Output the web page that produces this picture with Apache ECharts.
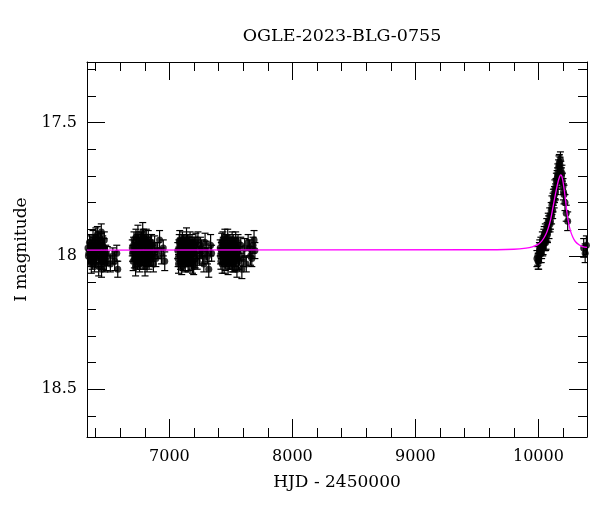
<!DOCTYPE html>
<html>
<head>
<meta charset="utf-8">
<script src="https://cdn.jsdelivr.net/npm/echarts@6/dist/echarts.min.js"></script>
<style>html,body{margin:0;padding:0;background:#fff}#c{width:600px;height:512px}</style>
</head>
<body>
<div id="c"></div>
<script>
// Observations: [HJD-2450000, I mag, error]
const season1 = [
[6338,17.97,0.03],[6345,17.99,0.035],[6350,17.95,0.03],[6356,18.01,0.03],[6362,17.96,0.035],[6368,17.98,0.03],
[6373,18.02,0.03],[6379,17.94,0.035],[6385,17.99,0.03],[6391,18.03,0.03],[6396,17.97,0.03],[6402,17.93,0.035],
[6408,18.00,0.03],[6414,17.92,0.03],[6419,17.98,0.03],[6425,18.04,0.035],[6431,17.96,0.03],[6437,18.01,0.03],
[6442,17.95,0.035],[6448,18.05,0.03],[6455,17.99,0.03],[6461,18.02,0.03],[6468,17.97,0.035],[6475,18.03,0.03],
[6482,17.99,0.03],[6495,18.00,0.035],[6520,18.03,0.03],[6555,18.02,0.035],[6572,17.99,0.03],[6580,18.05,0.03],
[6341,18.00,0.03],[6353,17.98,0.03],[6365,18.03,0.035],[6376,17.96,0.03],[6388,17.95,0.03],[6399,18.01,0.035],
[6411,17.97,0.03],[6422,17.94,0.03],[6434,17.99,0.035],[6446,17.91,0.03],[6452,18.02,0.03],[6458,17.96,0.035],
[6465,18.00,0.03],[6471,17.94,0.03],[6488,18.02,0.035],[6540,18.00,0.03]
];
const season2 = [
[6698,17.97,0.03],[6705,18.02,0.035],[6712,17.94,0.03],[6718,17.99,0.03],[6725,18.04,0.035],[6731,17.96,0.03],
[6738,18.01,0.03],[6744,17.92,0.035],[6750,17.98,0.03],[6757,18.03,0.03],[6763,17.95,0.03],[6770,18.00,0.035],
[6776,17.97,0.03],[6783,17.91,0.035],[6789,17.93,0.03],[6796,17.99,0.03],[6802,18.04,0.035],[6809,17.96,0.03],
[6815,18.01,0.03],[6822,17.98,0.03],[6828,17.94,0.035],[6835,18.02,0.03],[6841,17.97,0.03],[6848,18.00,0.035],
[6855,17.95,0.03],[6862,17.99,0.03],[6870,18.03,0.03],[6880,17.96,0.035],[6890,18.01,0.03],[6905,17.98,0.03],
[6920,17.94,0.035],[6935,18.00,0.03],[6950,17.97,0.03],[6962,18.02,0.035],
[6701,17.99,0.03],[6709,17.96,0.03],[6715,18.01,0.035],[6722,17.98,0.03],[6728,17.93,0.03],[6735,17.99,0.035],
[6741,18.02,0.03],[6747,17.95,0.03],[6754,18.00,0.03],[6760,17.97,0.035],[6767,18.02,0.03],[6773,17.94,0.03],
[6780,18.00,0.035],[6786,17.96,0.03],[6793,18.02,0.03],[6799,17.95,0.03],[6806,17.99,0.035],[6812,17.93,0.03],
[6818,18.03,0.03],[6825,17.96,0.03],[6832,18.00,0.035],[6845,17.95,0.03],[6858,18.01,0.03],[6875,17.98,0.03]
];
const season3 = [
[7068,17.98,0.03],[7074,18.03,0.035],[7080,17.95,0.03],[7087,18.00,0.03],[7093,17.97,0.035],[7100,18.04,0.03],
[7106,17.94,0.03],[7113,17.99,0.03],[7119,18.02,0.035],[7126,17.96,0.03],[7132,18.01,0.03],[7139,17.93,0.035],
[7145,17.98,0.03],[7152,18.03,0.03],[7158,17.96,0.03],[7165,18.00,0.035],[7171,17.97,0.03],[7178,18.02,0.03],
[7184,17.95,0.03],[7191,17.99,0.035],[7197,18.04,0.03],[7204,17.96,0.03],[7210,18.01,0.035],[7220,17.98,0.03],
[7232,17.94,0.03],[7245,18.00,0.035],[7260,17.97,0.03],[7280,18.03,0.03],[7300,17.98,0.035],[7320,18.05,0.03],
[7335,17.96,0.04],[7343,17.99,0.03],
[7071,18.01,0.03],[7077,17.97,0.03],[7084,17.94,0.035],[7090,18.02,0.03],[7096,17.95,0.03],[7103,17.99,0.03],
[7109,18.02,0.035],[7116,17.95,0.03],[7122,17.98,0.03],[7129,18.03,0.03],[7135,17.97,0.035],[7142,18.00,0.03],
[7148,17.95,0.03],[7155,17.99,0.03],[7161,18.02,0.035],[7168,17.94,0.03],[7174,18.00,0.03],[7181,17.97,0.03],
[7188,18.03,0.035],[7194,17.96,0.03],[7200,17.99,0.03],[7215,17.95,0.035],[7226,18.02,0.03],[7252,17.96,0.03],
[7270,18.00,0.03],[7290,17.95,0.035],[7310,18.00,0.03]
];
const season4 = [
[7413,17.97,0.03],[7419,18.02,0.03],[7425,17.95,0.035],[7432,18.00,0.03],[7438,17.96,0.03],[7445,18.03,0.035],
[7451,17.93,0.03],[7458,17.99,0.03],[7464,18.01,0.03],[7471,17.97,0.035],[7477,18.04,0.03],[7484,17.95,0.03],
[7490,18.00,0.035],[7497,17.98,0.03],[7503,18.02,0.03],[7510,17.94,0.03],[7516,17.99,0.035],[7523,18.03,0.03],
[7529,17.96,0.03],[7536,18.01,0.03],[7542,17.97,0.035],[7549,18.05,0.03],[7555,17.98,0.03],[7562,18.02,0.03],
[7589,18.05,0.035],[7580,17.96,0.03],[7600,18.01,0.03],[7612,17.97,0.035],[7625,18.03,0.03],[7640,17.95,0.03],
[7660,18.00,0.035],[7680,17.96,0.03],[7695,17.98,0.03],
[7416,18.00,0.03],[7422,17.98,0.03],[7429,18.03,0.035],[7435,17.94,0.03],[7441,17.99,0.03],[7448,17.96,0.03],
[7454,18.02,0.035],[7461,17.95,0.03],[7467,18.00,0.03],[7474,17.93,0.03],[7480,17.99,0.035],[7487,18.02,0.03],
[7493,17.96,0.03],[7500,18.00,0.03],[7506,17.97,0.035],[7513,18.03,0.03],[7519,17.95,0.03],[7526,17.99,0.03],
[7532,18.02,0.035],[7539,17.94,0.03],[7546,17.99,0.03],[7558,17.95,0.03],[7570,18.00,0.035],[7650,17.97,0.03],
[7670,18.01,0.03],[7688,17.94,0.035]
];
const season5 = [
[9988,18.01,0.03],[9995,18.00,0.035],[10002,18.02,0.03],[10008,17.98,0.03],[10014,17.99,0.035],[10020,17.96,0.03],
[10026,17.98,0.03],[10032,17.94,0.03],[10038,17.96,0.035],[10044,17.93,0.03],[10050,17.95,0.03],[10056,17.91,0.03],
[10062,17.94,0.035],[10068,17.89,0.03],[10074,17.92,0.03],[10080,17.87,0.03],[10086,17.90,0.035],[10092,17.85,0.03],
[10098,17.87,0.03],[10104,17.83,0.03],[10110,17.81,0.035],[10116,17.83,0.03],[10122,17.78,0.03],[10128,17.79,0.03],
[10134,17.75,0.035],[10140,17.76,0.03],[10146,17.72,0.03],[10152,17.71,0.03],[10158,17.69,0.035],[10164,17.67,0.03],
[10170,17.65,0.03],[10176,17.66,0.03],[10182,17.68,0.035],[10188,17.70,0.03],[10194,17.72,0.03],[10200,17.74,0.03],
[10208,17.77,0.035],[10216,17.80,0.03],[10226,17.84,0.03],[10238,17.87,0.035],[10368,17.97,0.035],[10380,17.99,0.035],
[10390,17.96,0.035],
[9998,18.02,0.03],[10011,17.97,0.03],[10023,17.99,0.035],[10035,17.97,0.03],[10047,17.92,0.03],[10059,17.95,0.03],
[10071,17.91,0.035],[10083,17.88,0.03],[10095,17.88,0.03],[10107,17.85,0.03],[10119,17.80,0.035],[10131,17.77,0.03],
[10143,17.74,0.03],[10155,17.70,0.03],[10167,17.66,0.035],[10179,17.64,0.03],[10191,17.69,0.03],[10204,17.76,0.03]
];

// Model light curve [HJD-2450000, I mag]
const modelCurve = [
[6330,17.978],[9500,17.977],[9800,17.975],[9900,17.971],[9950,17.966],[10000,17.956],[10030,17.943],[10060,17.920],
[10080,17.896],[10100,17.862],[10120,17.813],[10140,17.765],[10160,17.722],[10172,17.703],[10182,17.696],[10190,17.701],
[10200,17.722],[10215,17.770],[10230,17.830],[10245,17.875],[10260,17.905],[10280,17.930],[10300,17.946],[10330,17.958],
[10360,17.965],[10395,17.968]
];

// Axis ticks
const xMajorTicks = [7000, 8000, 9000, 10000];
const xMinorTicks = [6400, 6600, 6800, 7200, 7400, 7600, 7800, 8200, 8400, 8600, 8800, 9200, 9400, 9600, 9800, 10200];
const yMajorTicks = [17.5, 18, 18.5];
const yMinorTicks = [17.3, 17.4, 17.6, 17.7, 17.8, 17.9, 18.1, 18.2, 18.3, 18.4, 18.6];

const titleText = 'OGLE-2023-BLG-0755';
const xName = 'HJD - 2450000';
const yName = 'I magnitude';

const X_MIN = 6330, X_MAX = 10395, Y_MIN = 17.273, Y_MAX = 18.679;
const FONT = 'DejaVu Serif';

const allObs = season1.concat(season2, season3, season4, season5);

function renderErr(params, api) {
  const x = api.value(0), y = api.value(1), e = api.value(2);
  const t = api.coord([x, y - e]);
  const b = api.coord([x, y + e]);
  const c = 3.5;
  const st = {stroke: '#000', lineWidth: 1.2};
  return {type: 'group', children: [
    {type: 'line', shape: {x1: t[0], y1: t[1], x2: b[0], y2: b[1]}, style: st},
    {type: 'line', shape: {x1: t[0] - c, y1: t[1], x2: t[0] + c, y2: t[1]}, style: st},
    {type: 'line', shape: {x1: b[0] - c, y1: b[1], x2: b[0] + c, y2: b[1]}, style: st}
  ]};
}

function xAx(pos, ticks, len, main) {
  return {
    type: 'value', position: pos, min: X_MIN, max: X_MAX,
    axisLine: {show: main, onZero: false, lineStyle: {color: '#000', width: 1}},
    axisTick: {show: true, inside: true, length: len, customValues: ticks, lineStyle: {color: '#000', width: 1}},
    axisLabel: (main && pos === 'bottom') ? {show: true, customValues: xMajorTicks, color: '#000', fontFamily: FONT, fontSize: 16, margin: 12, formatter: v => String(v)} : {show: false},
    splitLine: {show: false},
    name: (main && pos === 'bottom') ? xName : '',
    nameLocation: 'middle', nameGap: 37,
    nameTextStyle: {color: '#000', fontFamily: FONT, fontSize: 17}
  };
}
function yAx(pos, ticks, len, main) {
  return {
    type: 'value', position: pos, min: Y_MIN, max: Y_MAX, inverse: true,
    axisLine: {show: main, onZero: false, lineStyle: {color: '#000', width: 1}},
    axisTick: {show: true, inside: true, length: len, customValues: ticks, lineStyle: {color: '#000', width: 1}},
    axisLabel: (main && pos === 'left') ? {show: true, customValues: yMajorTicks, color: '#000', fontFamily: FONT, fontSize: 16, margin: 10, formatter: v => String(v)} : {show: false},
    splitLine: {show: false},
    name: (main && pos === 'left') ? yName : '',
    nameLocation: 'middle', nameGap: 55, nameRotate: 90,
    nameTextStyle: {color: '#000', fontFamily: FONT, fontSize: 17}
  };
}

const chart = echarts.init(document.getElementById('c'), null, {renderer: 'canvas'});
chart.setOption({
  animation: false,
  backgroundColor: '#fff',
  title: {text: titleText, left: 337, textAlign: 'center', top: 22, textStyle: {color: '#000', fontFamily: FONT, fontSize: 17.5, fontWeight: 'normal'}},
  grid: {left: 87, right: 13, top: 62, bottom: 75, containLabel: false},
  xAxis: [
    xAx('bottom', xMajorTicks, 18, true),
    xAx('bottom', xMinorTicks, 9, false),
    xAx('top', xMajorTicks, 18, true),
    xAx('top', xMinorTicks, 9, false)
  ],
  yAxis: [
    yAx('left', yMajorTicks, 18, true),
    yAx('left', yMinorTicks, 9, false),
    yAx('right', yMajorTicks, 18, true),
    yAx('right', yMinorTicks, 9, false)
  ],
  series: [
    {type: 'custom', xAxisIndex: 0, yAxisIndex: 0, data: allObs, renderItem: renderErr, encode: {x: 0, y: 1}, clip: true, z: 2},
    {type: 'scatter', xAxisIndex: 0, yAxisIndex: 0, data: allObs.map(d => [d[0], d[1]]), symbol: 'circle', symbolSize: 7, itemStyle: {color: '#000'}, clip: true, z: 3},
    {type: 'line', xAxisIndex: 0, yAxisIndex: 0, data: modelCurve, showSymbol: false, smooth: 0.3, lineStyle: {color: '#ff00ff', width: 1.3}, clip: true, z: 4}
  ]
});
</script>
</body>
</html>
